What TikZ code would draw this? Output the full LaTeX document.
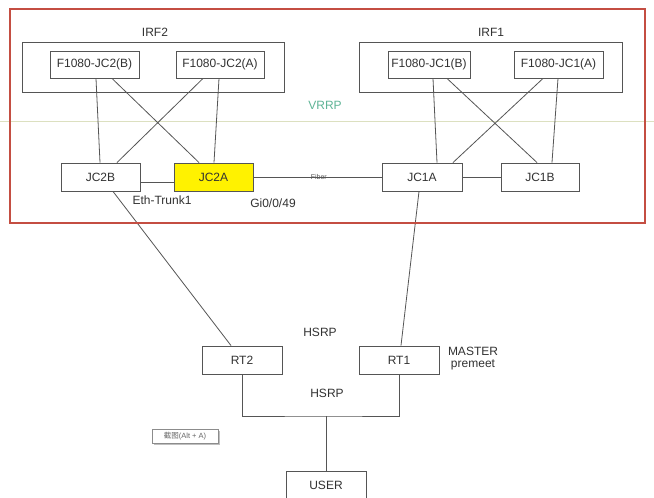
\documentclass[tikz,border=0pt]{standalone}
\usepackage{fontspec}
\setmainfont{Liberation Sans}
\newfontfamily\cjk{Noto Sans CJK SC}
\definecolor{framered}{RGB}{196,78,66}
\definecolor{boxgray}{RGB}{85,85,85}
\definecolor{txtgray}{RGB}{50,50,50}
\definecolor{vrrpgreen}{RGB}{95,180,150}
\definecolor{lightolive}{RGB}{220,224,192}
\definecolor{jcyellow}{RGB}{255,242,0}
\begin{document}
\begin{tikzpicture}[x=1pt,y=-1pt,
  dev/.style={draw=boxgray,line width=0.9pt,fill=white,inner sep=0pt,text=txtgray,font=\fontsize{12}{14}\selectfont},
  grp/.style={draw=boxgray,line width=0.9pt,inner sep=0pt},
  link/.style={draw=boxgray,line width=0.8pt},
  lbl/.style={text=txtgray,inner sep=0pt,font=\fontsize{12}{14}\selectfont}]
\useasboundingbox (0,0) rectangle (654,498);
\fill[white] (0,0) rectangle (654,498);
% group boxes
\node[grp,minimum width=262pt,minimum height=50pt] (irf2) at (153,67) {};
\node[grp,minimum width=263pt,minimum height=50pt] (irf1) at (490.5,67) {};
\node[lbl] (irf2l) at (155,32) {IRF2};
\node[lbl] (irf1l) at (491,32) {IRF1};
% green line and VRRP
\coordinate (gl) at (0,121);
\coordinate (gr) at (654,121);
\draw[lightolive,line width=0.9pt] (gl) -- (gr);
\node[lbl,text=vrrpgreen] (vrrp) at (325,105) {VRRP};
% devices
\node[dev,minimum width=89pt,minimum height=27pt] (fb2) at (94.5,64.5) {F1080-JC2(B)};
\node[dev,minimum width=88pt,minimum height=27pt] (fa2) at (220,64.5) {F1080-JC2(A)};
\node[dev,minimum width=82pt,minimum height=27pt] (fb1) at (429,64.5) {F1080-JC1(B)};
\node[dev,minimum width=89pt,minimum height=27pt] (fa1) at (558.5,64.5) {F1080-JC1(A)};
\node[dev,minimum width=79pt,minimum height=28pt] (jc2b) at (100.5,177) {JC2B};
\node[dev,minimum width=79pt,minimum height=28pt,fill=jcyellow] (jc2a) at (213.5,177) {JC2A};
\node[dev,minimum width=80pt,minimum height=28pt] (jc1a) at (422,177) {JC1A};
\node[dev,minimum width=78pt,minimum height=28pt] (jc1b) at (540,177) {JC1B};
\node[dev,minimum width=80pt,minimum height=28pt] (rt2) at (242,360) {RT2};
\node[dev,minimum width=80pt,minimum height=28pt] (rt1) at (399,360) {RT1};
\node[dev,minimum width=80pt,minimum height=27pt] (user) at (326,485) {USER};
% links upper
\draw[link] ([xshift=1.5pt]fb2.south) -- ([xshift=-0.5pt]jc2b.north);
\draw[link] ([xshift=17.5pt]fb2.south) -- ([xshift=-14.5pt]jc2a.north);
\draw[link] ([xshift=-17pt]fa2.south) -- ([xshift=16.5pt]jc2b.north);
\draw[link] ([xshift=-1pt]fa2.south) -- ([xshift=0.5pt]jc2a.north);
\draw[link] ([xshift=4pt]fb1.south) -- ([xshift=15pt]jc1a.north);
\draw[link] ([xshift=18pt]fb1.south) -- ([xshift=-3pt]jc1b.north);
\draw[link] ([xshift=-15.5pt]fa1.south) -- ([xshift=31pt]jc1a.north);
\draw[link] ([xshift=-0.5pt]fa1.south) -- ([xshift=12pt]jc1b.north);
\draw[link] ([yshift=-5pt]jc2b.east) -- ([yshift=-5pt]jc2a.west);
\draw[link] (jc2a.east) -- node[text=boxgray,inner sep=0pt,font=\fontsize{7}{8}\selectfont,pos=0.51] (fiber) {Fiber} (jc1a.west);
\draw[link] (jc1a.east) -- (jc1b.west);
\node[lbl] (eth) at (162,200) {Eth-Trunk1};
\node[lbl] (gi) at (273,203) {Gi0/0/49};
% links lower
\draw[link] ([xshift=12.5pt]jc2b.south) -- ([xshift=-11pt]rt2.north);
\draw[link] ([xshift=-3pt]jc1a.south) -- ([xshift=2pt]rt1.north);
\coordinate (j) at (326,416);
\draw[link] (rt2.south) |- (j) -| (rt1.south);
\draw[link] (j) -- (user.north);
\node[lbl] (hsrp1) at (320,332) {HSRP};
\node[lbl] (hsrp2) at (327,393) {HSRP};
\node[lbl,align=center] (master) at (473,359) {MASTER\\[-2pt]premeet};
% red frame
\draw[framered,line width=2pt] (10,9) rectangle (645,223);
% screenshot tooltip
\fill[black!25] (154,431) rectangle (220,445);
\node[draw=black!45,fill=white,line width=0.5pt,minimum width=66pt,minimum height=14pt,inner sep=0pt,text=black!60,font=\fontsize{7.5}{8}\selectfont] (snip) at (185,436) {{\cjk 截图}(Alt + A)};
\end{tikzpicture}
\end{document}
